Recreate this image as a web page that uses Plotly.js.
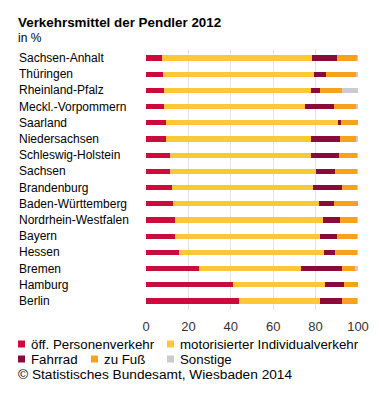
<!DOCTYPE html>
<html>
<head>
<meta charset="utf-8">
<script src="https://cdn.plot.ly/plotly-3.0.1.min.js"></script>
<style>html,body{margin:0;padding:0;background:#fff;}#chart{width:380px;height:394px;}</style>
</head>
<body>
<div id="chart"></div>
<script>
const categories = ["Sachsen-Anhalt","Thüringen","Rheinland-Pfalz","Meckl.-Vorpommern","Saarland","Niedersachsen","Schleswig-Holstein","Sachsen","Brandenburg","Baden-Württemberg","Nordrhein-Westfalen","Bayern","Hessen","Bremen","Hamburg","Berlin"];
const seriesNames = ["öff. Personenverkehr","motorisierter Individualverkehr","Fahrrad","zu Fuß","Sonstige"];
const oepv     = [7.5, 7.8, 8.5, 8.5, 9.5, 9.5, 11.1, 11.4, 12.4, 12.8, 13.5, 13.9, 15.7, 25.2, 40.9, 43.9];
const miv      = [71.0, 71.3, 69.4, 66.4, 80.9, 68.1, 66.9, 68.7, 66.4, 68.7, 69.9, 68.1, 68.3, 47.7, 43.5, 38.2];
const fahrrad  = [11.6, 6.0, 4.4, 13.6, 1.6, 13.9, 12.9, 9.0, 13.5, 7.4, 8.0, 8.1, 5.3, 19.7, 8.8, 10.5];
const zuFuss   = [9.4, 14.1, 10.3, 10.4, 8.0, 7.4, 8.8, 10.4, 7.4, 10.9, 8.3, 9.3, 10.2, 5.8, 6.8, 6.8];
const sonstige = [0.5, 0.8, 7.4, 1.1, 0.0, 1.1, 0.3, 0.5, 0.3, 0.2, 0.3, 0.6, 0.5, 1.6, 0.0, 0.6];
const xTicks = [0, 20, 40, 60, 80, 100];

const seriesValues = [oepv, miv, fahrrad, zuFuss, sonstige];
const colors = ["#cc0a3c", "#fdc73a", "#8c0a3a", "#f8a11c", "#cccccc"];

const W = 380, H = 394;
const M = {l: 146, r: 22, t: 49, b: 84};
const pw = W - M.l - M.r, ph = H - M.t - M.b;
const px = x => (x - M.l) / pw;
const py = y => (H - M.b - y) / ph;

const traces = seriesValues.map((vals, i) => ({
  type: "bar", orientation: "h", name: seriesNames[i],
  y: categories, x: vals, width: 0.31,
  marker: {color: colors[i], line: {width: 0}},
  hoverinfo: "none", showlegend: false
}));

const font = "Liberation Sans, Arial, sans-serif";
const annotations = [];
const shapes = [];

categories.forEach(c => annotations.push({
  xref: "paper", yref: "y", x: px(17), y: c, xanchor: "left", yanchor: "middle",
  text: c, showarrow: false, font: {family: font, size: 12, color: "#000"}
}));

annotations.push({xref: "paper", yref: "paper", x: px(16), y: py(22), xanchor: "left", yanchor: "middle",
  text: "<b>Verkehrsmittel der Pendler 2012</b>", showarrow: false, font: {family: font, size: 13.4, color: "#000"}});
annotations.push({xref: "paper", yref: "paper", x: px(16), y: py(38), xanchor: "left", yanchor: "middle",
  text: "in %", showarrow: false, font: {family: font, size: 12, color: "#000"}});
annotations.push({xref: "paper", yref: "paper", x: px(16), y: py(375), xanchor: "left", yanchor: "middle",
  text: "© Statistisches Bundesamt, Wiesbaden 2014", showarrow: false, font: {family: font, size: 13.7, color: "#000"}});

const legPos = [[18, 344], [167, 344], [18, 359], [91, 359], [167, 359]];
seriesNames.forEach((n, i) => {
  const [lx, ly] = legPos[i];
  shapes.push({type: "rect", xref: "paper", yref: "paper",
    x0: px(lx), x1: px(lx + 7), y0: py(ly + 3.5), y1: py(ly - 3.5),
    fillcolor: colors[i], line: {width: 0}});
  annotations.push({xref: "paper", yref: "paper", x: px(lx + 11), y: py(ly), xanchor: "left", yanchor: "middle",
    text: n, showarrow: false, font: {family: font, size: 13.3, color: "#000"}});
});

const layout = {
  width: W, height: H,
  margin: M,
  paper_bgcolor: "#fff", plot_bgcolor: "#fff",
  barmode: "stack", bargap: 0.69,
  showlegend: false,
  xaxis: {range: [0, 100], tickvals: xTicks, ticktext: xTicks.map(String), showgrid: true,
    gridcolor: "#e3e3e3", gridwidth: 1, zeroline: false, showline: false,
    ticks: "outside", ticklen: 4, tickcolor: "rgba(0,0,0,0)",
    tickfont: {family: font, size: 13, color: "#333"}, fixedrange: true},
  yaxis: {type: "category", autorange: "reversed", showticklabels: false, showgrid: false,
    zeroline: false, showline: false, ticks: "", fixedrange: true},
  annotations: annotations, shapes: shapes
};

Plotly.newPlot("chart", traces, layout, {displayModeBar: false, staticPlot: true});
</script>
</body>
</html>
